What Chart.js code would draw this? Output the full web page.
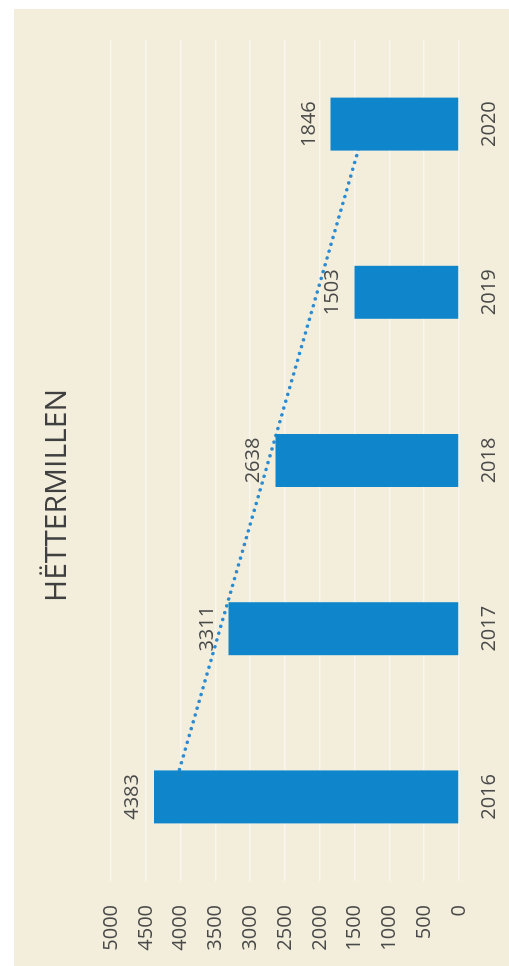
<!DOCTYPE html>
<html>
<head>
<meta charset="utf-8">
<script src="https://cdn.jsdelivr.net/npm/chart.js@4"></script>
<style>
  html, body { margin: 0; padding: 0; background: #ffffff; overflow: hidden; }
  body { width: 509px; height: 966px; position: relative; }
  #frame {
    position: absolute; left: 14px; top: 9px;
    width: 495px; height: 957px;
    background: #f2eedb;
    overflow: hidden;
  }
  /* the chart is drawn upright, then turned a quarter left like the scan */
  #turn {
    position: absolute; left: 0; top: 0;
    width: 957px; height: 495px;
    transform-origin: top left;
    transform: translateY(957px) rotate(-90deg);
  }
</style>
</head>
<body>
<div id="frame">
  <div id="turn">
    <canvas id="chartMillen" width="957" height="495"></canvas>
  </div>
</div>
<script>
const anos = ['2016', '2017', '2018', '2019', '2020'];
const valores = [4383, 3311, 2638, 1503, 1846];
// trend line: only its two ends
const tendencia = [4130, null, null, null, 1340];
const titulo = 'HËTTERMILLEN';

const azul = '#0f86cc';
const texto = '#4a4a4a';

const rotulosBarras = {
  id: 'rotulosBarras',
  afterDatasetsDraw(chart) {
    const ctx = chart.ctx;
    const meta = chart.getDatasetMeta(0);
    ctx.save();
    ctx.font = '20px "Open Sans"';
    ctx.fillStyle = texto;
    ctx.textAlign = 'center';
    ctx.textBaseline = 'alphabetic';
    meta.data.forEach((bar, i) => {
      ctx.fillText(String(valores[i]), bar.x, bar.y - 16);
    });
    ctx.restore();
  }
};

new Chart(document.getElementById('chartMillen'), {
  data: {
    labels: anos,
    datasets: [
      {
        type: 'bar',
        data: valores,
        backgroundColor: azul,
        borderWidth: 0,
        categoryPercentage: 1,
        barPercentage: 0.315,
        order: 1
      },
      {
        type: 'line',
        data: tendencia,
        spanGaps: true,
        borderColor: '#2a8ad2',
        borderWidth: 3.5,
        borderDash: [0.1, 7],
        borderCapStyle: 'round',
        pointRadius: 0,
        fill: false,
        order: 2
      }
    ]
  },
  plugins: [rotulosBarras],
  options: {
    responsive: false,
    animation: false,
    layout: { padding: { left: 15, right: 31, top: 0, bottom: 5 } },
    plugins: {
      legend: { display: false },
      tooltip: { enabled: false },
      title: {
        display: true,
        text: titulo,
        color: '#404040',
        font: { family: 'Open Sans', size: 30, weight: 'normal' },
        padding: { top: 25, bottom: 36 }
      }
    },
    scales: {
      x: {
        grid: { display: false, drawTicks: false },
        border: { display: false },
        ticks: {
          color: texto,
          padding: 18,
          maxRotation: 0,
          font: { family: 'Open Sans', size: 20 }
        },
        afterFit: scale => { scale.height = 45; }
      },
      y: {
        min: 0,
        max: 5000,
        grid: { color: '#f8f6ee', lineWidth: 1.5, drawTicks: false },
        border: { display: false },
        ticks: {
          stepSize: 500,
          color: texto,
          padding: 24,
          font: { family: 'Open Sans', size: 20 },
          callback: v => String(v)
        },
        afterFit: scale => { scale.width = 70; }
      }
    }
  }
});
</script>
</body>
</html>
